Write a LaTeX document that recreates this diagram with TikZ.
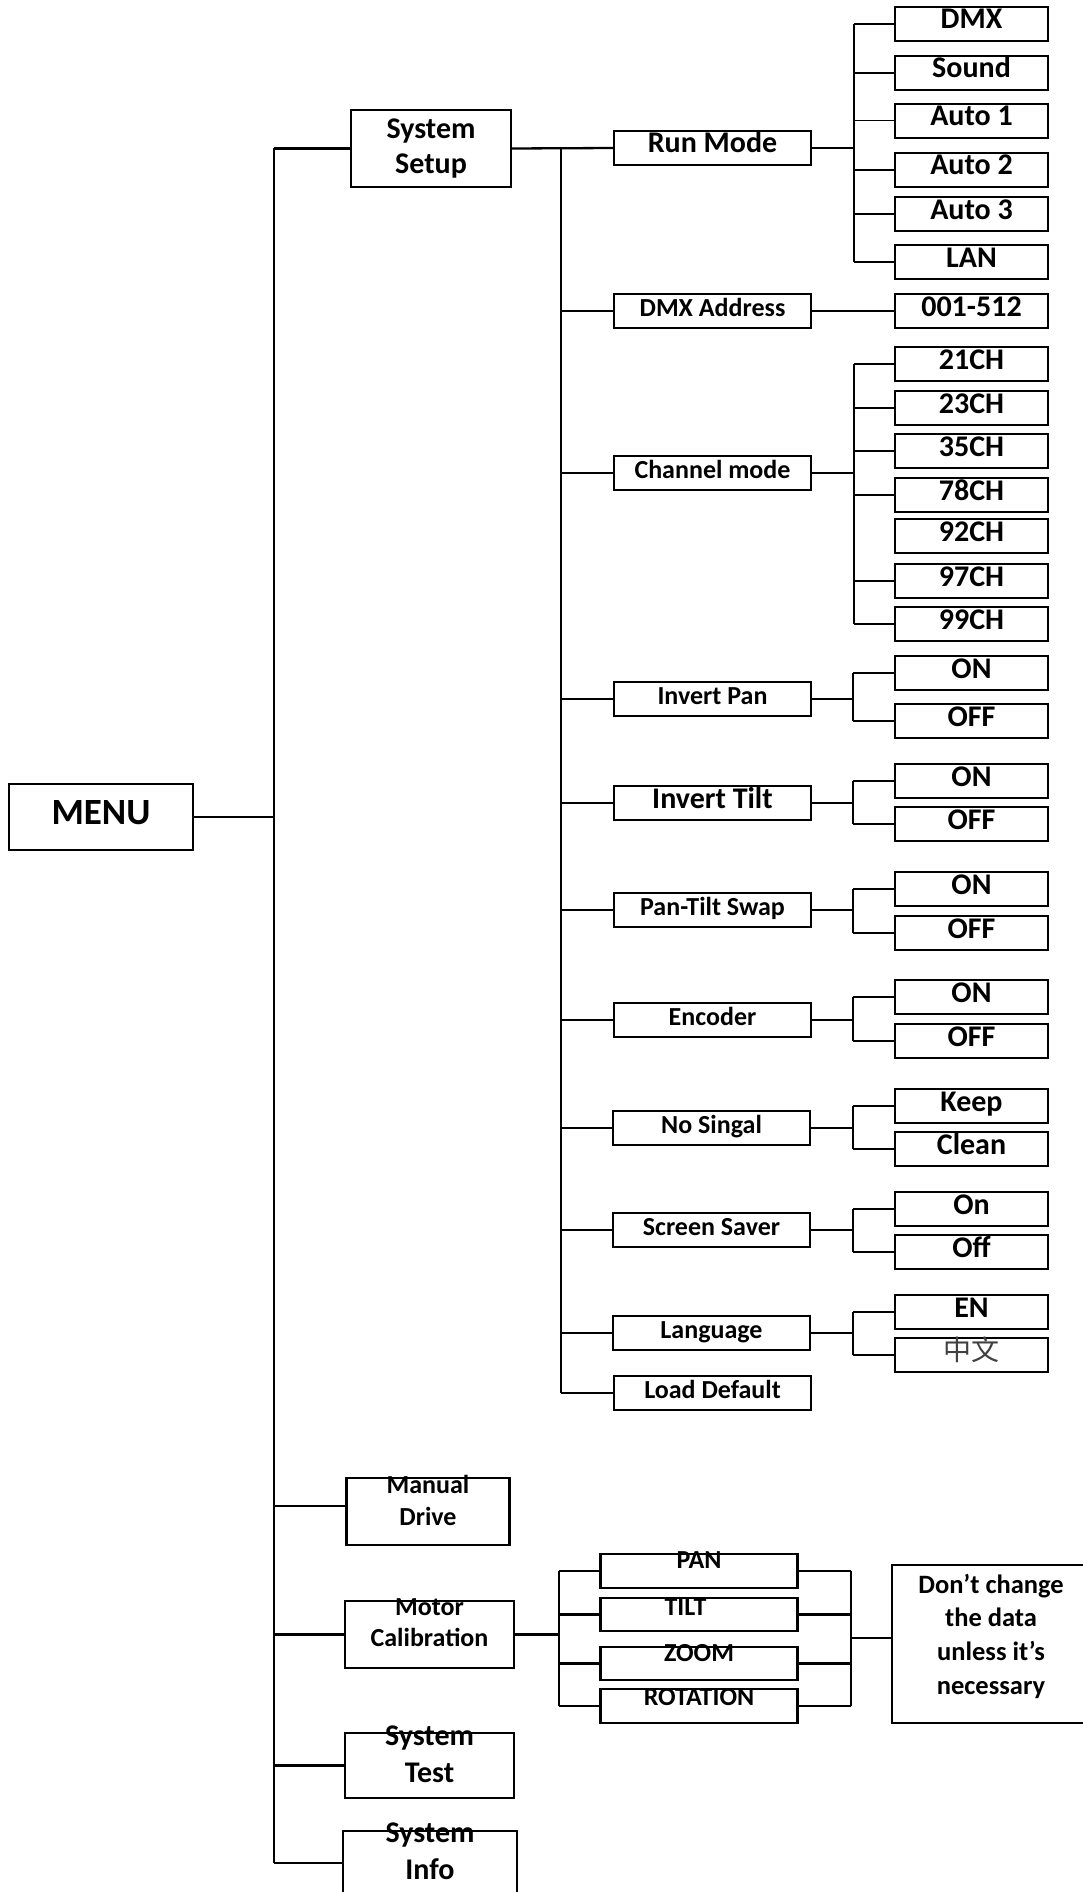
\documentclass[tikz,border=0pt]{standalone}
\usepackage{fontspec}
\setmainfont{Carlito}
\newfontfamily\cjk{Noto Sans CJK SC}
\newcommand\myfsA{\fontsize{26}{31}\selectfont\bfseries}
\newcommand\myfsB{\fontsize{30}{35}\selectfont\bfseries}
\newcommand\myfsM{\fontsize{37}{40}\selectfont\bfseries}
\begin{document}
\begin{tikzpicture}[x=1pt,y=-1pt,
 box/.style={draw,line width=2.3pt,inner sep=0pt,outer sep=0pt},
 lvtwo/.style={box,minimum width=197pt,minimum height=34pt,text height=20pt,text depth=10pt,font=\myfsA},
 leaf/.style={box,minimum width=153pt,minimum height=34pt,text height=20pt,text depth=10pt,font=\myfsB},
 subbox/.style={box,minimum width=197pt,minimum height=34pt},
 lbl/.style={inner sep=0pt,outer sep=0pt,align=center},
 conn/.style={line width=2.3pt},
 trunk/.style={line width=2pt}]
\useasboundingbox (0,0) rectangle (1083,1892);

% root
\node[box,minimum width=184pt,minimum height=66pt,text height=24pt,text depth=9pt,font=\myfsM] (menu) at (101,817) {MENU};

% level 1
\node[box,minimum width=160pt,minimum height=77pt,align=center,font=\myfsB] (ss) at (431,148.5) {System\\Setup};
\node[box,minimum width=163pt,minimum height=67pt] (md) at (428,1511.5) {};
\node[lbl,font=\fontsize{26}{32}\selectfont\bfseries] (mdt) at (428,1500) {Manual\\Drive};
\node[box,minimum width=169pt,minimum height=67pt] (mc) at (429.5,1634.5) {};
\node[lbl,font=\fontsize{26}{31}\selectfont\bfseries] (mct) at (429.5,1623) {Motor\\Calibration};
\node[box,minimum width=169pt,minimum height=65pt] (st) at (429.5,1765.5) {};
\node[lbl,font=\fontsize{30}{37}\selectfont\bfseries] (stt) at (429.5,1754) {System\\Test};
\node[box,minimum width=174pt,minimum height=69pt] (si) at (430,1865.5) {};
\node[lbl,font=\fontsize{30}{37}\selectfont\bfseries] (sit) at (430,1851) {System\\Info};

% level 2
\node[lvtwo,font=\myfsB] (rm) at (712.5,148) {Run Mode};
\node[lvtwo] (da) at (712.5,311) {DMX Address};
\node[lvtwo] (cm) at (712.5,473) {Channel mode};
\node[lvtwo] (ip) at (712.5,699) {Invert Pan};
\node[lvtwo,font=\myfsB] (it) at (712.5,803) {Invert Tilt};
\node[lvtwo] (pts) at (712.5,910) {Pan-Tilt Swap};
\node[lvtwo] (enc) at (712.5,1020) {Encoder};
\node[lvtwo] (ns) at (711.5,1128) {No Singal};
\node[lvtwo] (sv) at (711.5,1230) {Screen Saver};
\node[lvtwo] (lang) at (711.5,1333) {Language};
\node[lvtwo] (ld) at (712.5,1393) {Load Default};

% leaves
\node[leaf] (dmx) at (971.5,24) {DMX};
\node[leaf] (snd) at (971.5,73) {Sound};
\node[leaf] (aone) at (971.5,121) {Auto 1};
\node[leaf] (atwo) at (971.5,170) {Auto 2};
\node[leaf] (athree) at (971.5,214) {Auto 3};
\node[leaf] (lan) at (971.5,262) {LAN};
\node[leaf] (addr) at (971.5,311) {001-512};
\node[leaf] (c21) at (971.5,364) {21CH};
\node[leaf] (c23) at (971.5,408) {23CH};
\node[leaf] (c35) at (971.5,451) {35CH};
\node[leaf] (c78) at (971.5,495) {78CH};
\node[leaf] (c92) at (971.5,536) {92CH};
\node[leaf] (c97) at (971.5,581) {97CH};
\node[leaf] (c99) at (971.5,624) {99CH};
\node[leaf] (ipon) at (971.5,673) {ON};
\node[leaf] (ipoff) at (971.5,721) {OFF};
\node[leaf] (iton) at (971.5,781) {ON};
\node[leaf] (itoff) at (971.5,824) {OFF};
\node[leaf] (pson) at (971.5,889) {ON};
\node[leaf] (psoff) at (971.5,933) {OFF};
\node[leaf] (enon) at (971.5,997) {ON};
\node[leaf] (enoff) at (971.5,1041) {OFF};
\node[leaf] (keep) at (971.5,1106) {Keep};
\node[leaf] (clean) at (971.5,1149) {Clean};
\node[leaf] (svon) at (971.5,1209) {On};
\node[leaf] (svoff) at (971.5,1252) {Off};
\node[leaf] (en) at (971.5,1312) {EN};
\node[leaf,font=\cjk\fontsize{28}{30}\selectfont,text=black!75] (zh) at (971.5,1355) {中文};

% motor calibration items
\node[subbox] (pan) at (699,1571) {};
\node[subbox,minimum height=33pt] (tilt) at (699,1614.5) {};
\node[subbox,minimum height=33pt] (zoom) at (699,1663.5) {};
\node[subbox] (rot) at (699,1706) {};
\node[lbl,anchor=base,font=\myfsA] (pant) at (699,1568) {PAN};
\node[lbl,anchor=base,font=\myfsA] (tiltt) at (685.5,1615) {TILT};
\node[lbl,anchor=base,font=\myfsA] (zoomt) at (699,1661) {ZOOM};
\node[lbl,anchor=base,font=\myfsA] (rott) at (699,1705) {ROTATION};

% note
\node[box,minimum width=198pt,minimum height=158pt] (note) at (991,1644) {};
\node[lbl,font=\fontsize{26.5}{33.7}\selectfont\bfseries] (notet) at (991,1636) {Don’t change\\the data\\unless it’s\\necessary};

% main trunk
\coordinate (tA) at (274,148);
\coordinate (tB) at (274,1863);
\draw[trunk] (tA) -- (tB);
\draw[conn] (menu.east) -- (menu.east -| tA);
\draw[conn] (ss.west) -- (ss.west -| tA);
\draw[conn] ([yshift=5.5pt]md.west) -- ([yshift=5.5pt]md.west -| tA);
\draw[conn] (mc.west) -- (mc.west -| tA);
\draw[conn] (st.west) -- (st.west -| tA);
\draw[conn] ([yshift=2.5pt]si.west) -- ([yshift=2.5pt]si.west -| tA);

% secondary trunk
\coordinate (sA) at (560.5,148);
\coordinate (sB) at (560.5,1393);
\draw[conn] (ss.east) -- (rm.west);
\draw[trunk] (sA) -- (sB);
\foreach \n in {da,cm,ip,it,pts,enc,ns,sv,lang,ld}
  \draw[conn] (\n.west) -- (\n.west -| sA);

% run mode
\coordinate (bx) at (854,0);
\draw[conn] (rm.east) -- (rm.east -| bx);
\draw[trunk] (dmx.west -| bx) -- (lan.west -| bx);
\foreach \n in {dmx,snd,atwo,athree,lan}
  \draw[conn] (\n.west) -- (\n.west -| bx);
\draw[line width=1pt] (aone.west) -- (aone.west -| bx);

% dmx address
\draw[conn] (da.east) -- (addr.west);

% channel mode
\draw[conn] (cm.east) -- (cm.east -| bx);
\draw[trunk] (c21.west -| bx) -- (c99.west -| bx);
\foreach \n in {c21,c23,c35,c78,c97,c99}
  \draw[conn] (\n.west) -- (\n.west -| bx);

% pairs
\coordinate (px) at (852.5,0);
\foreach \p/\a/\b in {ip/ipon/ipoff,it/iton/itoff,pts/pson/psoff,enc/enon/enoff,ns/keep/clean,sv/svon/svoff,lang/en/zh}{
  \draw[conn] (\p.east) -- (\p.east -| px);
  \draw[trunk] (\a.west -| px) -- (\b.west -| px);
  \draw[conn] (\a.west) -- (\a.west -| px);
  \draw[conn] (\b.west) -- (\b.west -| px);
}

% motor calibration
\coordinate (mL) at (559,0);
\coordinate (mR) at (851,0);
\draw[conn] (mc.east) -- (mc.east -| mL);
\draw[trunk] (pan.west -| mL) -- (rot.west -| mL);
\draw[trunk] (pan.east -| mR) -- (rot.east -| mR);
\foreach \n in {pan,tilt,zoom,rot}{
  \draw[conn] (\n.west) -- (\n.west -| mL);
  \draw[conn] (\n.east) -- (\n.east -| mR);
}
\draw[conn] ([yshift=6pt]note.west) -- ([yshift=6pt]note.west -| mR);
\end{tikzpicture}
\end{document}
